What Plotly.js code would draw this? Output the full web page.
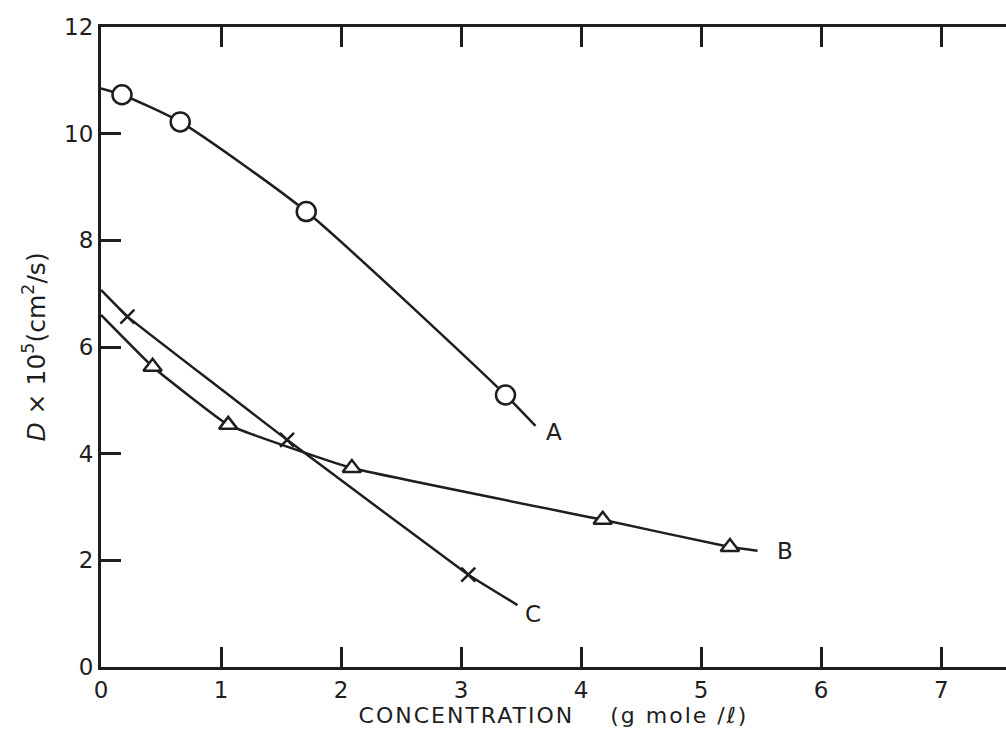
<!DOCTYPE html>
<html>
<head>
<meta charset="utf-8">
<script src="https://cdn.plot.ly/plotly-3.0.1.min.js"></script>
<style>html,body{margin:0;padding:0;background:#fff;}#chart{width:1006px;height:745px;}</style>
</head>
<body>
<div id="chart"></div>
<script>
// Curve A (circles)
const aX = [0.175, 0.66, 1.71, 3.37];
const aY = [10.73, 10.22, 8.54, 5.10];
const aLineX = [0, 0.175, 0.66, 1.71, 3.37, 3.62];
const aLineY = [10.85, 10.73, 10.22, 8.54, 5.10, 4.52];
// Curve B (triangles)
const bX = [0.43, 1.06, 2.09, 4.18, 5.24];
const bY = [5.63, 4.54, 3.73, 2.76, 2.25];
const bLineX = [0, 0.43, 1.06, 2.09, 4.18, 5.24, 5.47];
const bLineY = [6.60, 5.63, 4.54, 3.73, 2.76, 2.25, 2.18];
// Curve C (crosses)
const cX = [0.22, 1.55, 3.06];
const cY = [6.57, 4.26, 1.73];
const cLineX = [0, 0.22, 1.55, 3.06, 3.47];
const cLineY = [7.07, 6.57, 4.26, 1.73, 1.16];
// Labels
const curveLabels = ['A', 'B', 'C'];
const xTicks = [0, 1, 2, 3, 4, 5, 6, 7];
const yTicks = [0, 2, 4, 6, 8, 10, 12];

const ink = '#1e1e1e';
const lineStyle = {color: ink, width: 2.5};
const fam = 'DejaVu Sans, sans-serif';

const traces = [
  {x: aLineX, y: aLineY, mode: 'lines', line: Object.assign({shape: 'spline', smoothing: 0.6}, lineStyle), hoverinfo: 'skip'},
  {x: bLineX, y: bLineY, mode: 'lines', line: Object.assign({shape: 'spline', smoothing: 0.3}, lineStyle), hoverinfo: 'skip'},
  {x: cLineX, y: cLineY, mode: 'lines', line: Object.assign({shape: 'spline', smoothing: 0.2}, lineStyle), hoverinfo: 'skip'},
  {x: aX, y: aY, mode: 'markers', marker: {symbol: 'circle', size: 19, color: '#fff', line: {color: ink, width: 2.5}}},
  {x: bX, y: bY, mode: 'markers', marker: {symbol: 'triangle-up', size: 16, color: '#fff', line: {color: ink, width: 2.5}}},
  {x: cX, y: cY, mode: 'markers', marker: {symbol: 'x-thin-open', size: 14, color: ink, line: {color: ink, width: 2.5}}}
];

const layout = {
  width: 1006, height: 745,
  margin: {l: 101, r: 0, t: 27, b: 78},
  paper_bgcolor: '#fff', plot_bgcolor: '#fff',
  showlegend: false,
  font: {family: fam, color: ink, size: 22},
  xaxis: {
    range: [0, 7.54], tickvals: xTicks, ticktext: xTicks.map(String),
    ticks: 'inside', ticklen: 20, tickwidth: 3, tickcolor: ink,
    showline: true, linewidth: 3, linecolor: ink, mirror: 'ticks',
    showgrid: false, zeroline: false,
    tickfont: {size: 23},
    title: {text: 'CONCENTRATION&nbsp;&nbsp;&nbsp;&nbsp;(g mole /ℓ)', font: {size: 22}, standoff: 6}
  },
  yaxis: {
    range: [0, 12], tickvals: yTicks, ticktext: yTicks.map(String),
    ticks: 'inside', ticklen: 20, tickwidth: 3, tickcolor: ink,
    showline: true, linewidth: 3, linecolor: ink, mirror: false,
    showgrid: false, zeroline: false,
    tickfont: {size: 23},
    title: {text: '<i>D</i> × 10<sup>5</sup>(cm<sup>2</sup>/s)', font: {size: 25}, standoff: 12}
  },
  annotations: [
    {x: 3.77, y: 4.4, text: curveLabels[0], showarrow: false, font: {size: 23}},
    {x: 5.7, y: 2.18, text: curveLabels[1], showarrow: false, font: {size: 23}},
    {x: 3.6, y: 1.0, text: curveLabels[2], showarrow: false, font: {size: 23}}
  ]
};

Plotly.newPlot('chart', traces, layout, {displayModeBar: false, staticPlot: true}).then(function (gd) {
  const t = gd.querySelector('.xtitle');
  if (t) t.style.letterSpacing = '2px';
});
</script>
</body>
</html>
